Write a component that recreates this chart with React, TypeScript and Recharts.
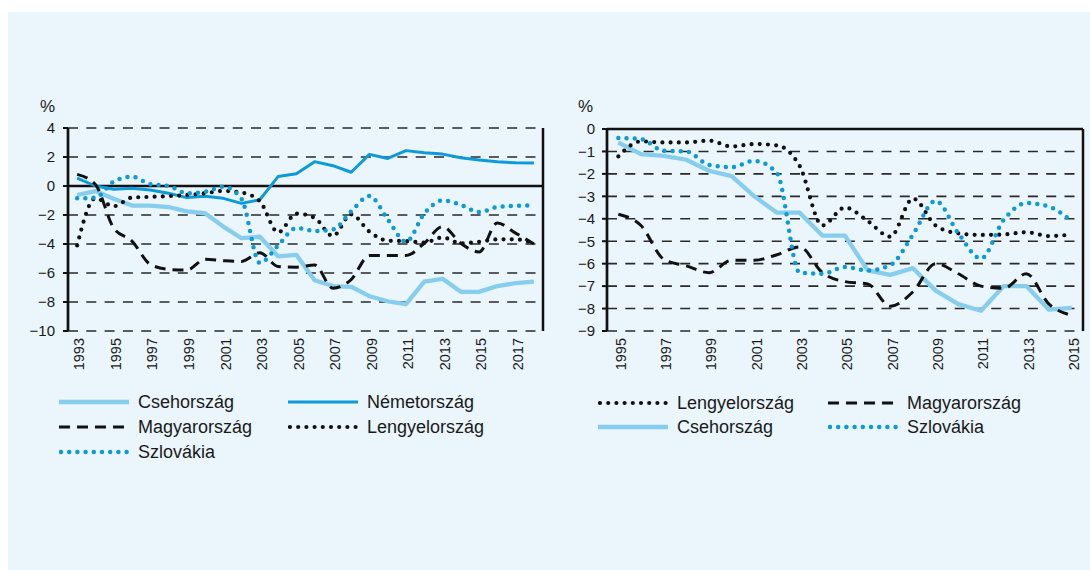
import React from 'react'
import { LineChart, Line, XAxis, YAxis, CartesianGrid, ReferenceLine } from 'recharts'

// --- left panel: 1993-2018 ---
const yearsA = [1993, 1994, 1995, 1996, 1997, 1998, 1999, 2000, 2001, 2002, 2003, 2004, 2005,
  2006, 2007, 2008, 2009, 2010, 2011, 2012, 2013, 2014, 2015, 2016, 2017, 2018]
const csehA = [-0.62, -0.35, -0.88, -1.35, -1.35, -1.45, -1.75, -1.88, -2.8, -3.6, -3.5, -4.85, -4.75,
  -6.5, -6.9, -6.95, -7.6, -7.95, -8.15, -6.6, -6.4, -7.3, -7.3, -6.9, -6.7, -6.6]
const nemetA = [0.55, 0.0, -0.22, -0.15, -0.28, -0.5, -0.8, -0.7, -0.85, -1.2, -0.95, 0.65, 0.85,
  1.68, 1.4, 0.95, 2.18, 1.9, 2.44, 2.3, 2.2, 1.95, 1.8, 1.67, 1.6, 1.58]
const magyarA = [0.8, 0.1, -2.9, -3.8, -5.4, -5.75, -5.8, -5.06, -5.15, -5.2, -4.6, -5.55, -5.6,
  -5.45, -7.05, -6.45, -4.8, -4.8, -4.8, -3.95, -2.8, -3.95, -4.55, -2.55, -3.25, -4.0]
const lengyelA = [-4.1, -0.85, -1.4, -0.8, -0.75, -0.7, -0.62, -0.5, -0.34, -0.45, -1.05, -3.2, -1.9,
  -2.2, -3.45, -1.95, -3.15, -3.77, -3.8, -3.9, -3.55, -3.95, -3.85, -3.68, -3.68, -3.95]
const szlovakA = [-0.85, -0.8, 0.3, 0.64, 0.12, 0.0, -0.5, -0.4, -0.05, -0.9, -5.3, -4.1, -2.9,
  -3.1, -3.0, -1.75, -0.69, -2.3, -3.85, -1.9, -1.0, -1.3, -1.8, -1.45, -1.37, -1.33]
const yTicksA = [4, 2, 0, -2, -4, -6, -8, -10]
const xTicksA = [1993, 1995, 1997, 1999, 2001, 2003, 2005, 2007, 2009, 2011, 2013, 2015, 2017]
const xDomainA = [1992.5, 2018.5]

// --- right panel: 1995-2015 ---
const yearsB = [1995, 1996, 1997, 1998, 1999, 2000, 2001, 2002, 2003, 2004, 2005,
  2006, 2007, 2008, 2009, 2010, 2011, 2012, 2013, 2014, 2015]
const lengyelB = [-1.22, -0.55, -0.6, -0.6, -0.52, -0.78, -0.67, -0.73, -1.65, -4.3, -3.5,
  -4.1, -4.8, -3.1, -4.3, -4.65, -4.72, -4.7, -4.6, -4.77, -4.7]
const magyarB = [-3.8, -4.3, -5.8, -6.1, -6.4, -5.85, -5.85, -5.6, -5.25, -6.4, -6.8,
  -6.9, -7.9, -7.25, -6.0, -6.45, -7.0, -7.1, -6.45, -7.8, -8.3]
const csehB = [-0.6, -1.12, -1.2, -1.37, -1.86, -2.1, -3.0, -3.73, -3.73, -4.75, -4.75,
  -6.3, -6.5, -6.2, -7.2, -7.8, -8.1, -7.0, -7.0, -8.05, -7.97]
const szlovakB = [-0.4, -0.45, -0.97, -1.0, -1.6, -1.7, -1.42, -1.97, -6.4, -6.45, -6.15,
  -6.3, -6.07, -4.7, -3.2, -4.65, -5.77, -4.05, -3.3, -3.46, -4.1]
const yTicksB = [0, -1, -2, -3, -4, -5, -6, -7, -8, -9]
const xTicksB = [1995, 1997, 1999, 2001, 2003, 2005, 2007, 2009, 2011, 2013, 2015]
const xDomainB = [1994.5, 2015.5]

const FONT = '"Liberation Sans", Arial, sans-serif'
const TEXT = '#1a1a1a'
const LIGHT = '#87CEEE'
const BLUE = '#0C9AD8'
const BLACK = '#111'

const STYLES: Record<string, any> = {
  cseh: { label: 'Csehország', stroke: LIGHT, strokeWidth: 4.3, type: 'linear' },
  nemet: { label: 'Németország', stroke: BLUE, strokeWidth: 3, type: 'linear' },
  magyar: { label: 'Magyarország', stroke: BLACK, strokeWidth: 3, dash: '11 7', type: 'monotone' },
  lengyel: { label: 'Lengyelország', stroke: BLACK, strokeWidth: 4.2, dash: '0 8.2', round: true, type: 'monotone' },
  szlovak: { label: 'Szlovákia', stroke: BLUE, strokeWidth: 4.5, dash: '0 8.2', round: true, type: 'monotone' },
}

const dataA = yearsA.map((year, i) => ({
  year, cseh: csehA[i], nemet: nemetA[i], magyar: magyarA[i], lengyel: lengyelA[i], szlovak: szlovakA[i],
}))
const dataB = yearsB.map((year, i) => ({
  year, lengyel: lengyelB[i], magyar: magyarB[i], cseh: csehB[i], szlovak: szlovakB[i],
}))

const fmt = (v: number) => (v < 0 ? '\u2212' + Math.abs(v) : String(v))

const YearTick = ({ x, y, payload }: any) => (
  <text x={x} y={y} transform={`rotate(-90 ${x} ${y})`} textAnchor="end" dy="0.5em"
    fontSize={14.5} fill={TEXT} fontFamily={FONT}>
    {payload.value}
  </text>
)

function Panel({ data, keys, yDomain, yTicks, xDomain, xTicks, width, height, top, yWidth, tickMargin }: any) {
  return (
    <LineChart width={width} height={height} data={data} margin={{ top, right: 4, left: 0, bottom: 5 }}>
      <CartesianGrid vertical={false} stroke="#2a2a2a" strokeWidth={1.6} strokeDasharray="10 8.3" />
      <XAxis dataKey="year" type="number" domain={xDomain} ticks={xTicks} interval={0} allowDataOverflow
        axisLine={false} tickLine={false} tickSize={0} tickMargin={7} height={50} tick={<YearTick />} />
      <YAxis domain={yDomain} ticks={yTicks} interval={0} width={yWidth} tickFormatter={fmt}
        axisLine={{ stroke: BLACK, strokeWidth: 2.7 }} tickLine={{ stroke: BLACK, strokeWidth: 2 }}
        tickSize={5} tickMargin={tickMargin} allowDataOverflow
        tick={{ fontSize: 15, fill: TEXT, fontFamily: FONT }} />
      <ReferenceLine y={0} stroke={BLACK} strokeWidth={2.3} />
      {/* frame line on the right edge of the plot */}
      <ReferenceLine x={xDomain[1]} stroke={BLACK} strokeWidth={2.5} ifOverflow="visible" />
      {keys.map((k: string) => {
        const s = STYLES[k]
        return (
          <Line key={k} dataKey={k} type={s.type} stroke={s.stroke} strokeWidth={s.strokeWidth}
            strokeDasharray={s.dash} strokeLinecap={s.round ? 'round' : 'butt'} strokeLinejoin="round"
            dot={false} activeDot={false} isAnimationActive={false} />
        )
      })}
    </LineChart>
  )
}

function Sample({ k }: { k: string }) {
  const s = STYLES[k]
  return (
    <svg width={70} height={10} style={{ marginRight: 9, flex: 'none' }}>
      <line x1={s.round ? 2 : 0} y1={5} x2={s.round ? 68 : 70} y2={5} stroke={s.stroke} strokeWidth={s.strokeWidth}
        strokeDasharray={s.dash} strokeLinecap={s.round ? 'round' : 'butt'} />
    </svg>
  )
}

function LegendItem({ k, left, top }: any) {
  return (
    <div style={{ position: 'absolute', left, top, height: 24, display: 'flex', alignItems: 'center',
      fontSize: 18, color: TEXT, whiteSpace: 'nowrap' }}>
      <Sample k={k} />
      <span>{STYLES[k].label}</span>
    </div>
  )
}

export default function App() {
  return (
    <>
      <style>{'html, body { margin: 0; overflow: hidden; }'}</style>
      <div style={{ position: 'absolute', left: 8, top: 12, width: 1082, height: 558,
        background: '#EAF5FC', fontFamily: FONT }}>
        <div style={{ position: 'absolute', left: 0, top: 0 }}>
          <Panel data={dataA} keys={['cseh', 'nemet', 'magyar', 'lengyel', 'szlovak']}
            yDomain={[-10, 4]} yTicks={yTicksA} xDomain={xDomainA} xTicks={xTicksA}
            width={539} height={374} top={116} yWidth={60} tickMargin={8} />
        </div>
        <div style={{ position: 'absolute', left: 547, top: 0 }}>
          <Panel data={dataB} keys={['cseh', 'magyar', 'lengyel', 'szlovak']}
            yDomain={[-9, 0]} yTicks={yTicksB} xDomain={xDomainB} xTicks={xTicksB}
            width={532} height={374} top={117} yWidth={52} tickMargin={7} />
        </div>
        {/* right frame of the second panel (plot edge) */}
        <div style={{ position: 'absolute', left: 1073.75, top: 117, width: 2.5, height: 202, background: BLACK }} />

        <div style={{ position: 'absolute', left: 32, top: 86, fontSize: 17, lineHeight: '17px', color: TEXT }}>%</div>
        <div style={{ position: 'absolute', left: 570, top: 86, fontSize: 17, lineHeight: '17px', color: TEXT }}>%</div>

        <LegendItem k="cseh" left={51} top={378} />
        <LegendItem k="nemet" left={280} top={378} />
        <LegendItem k="magyar" left={51} top={403} />
        <LegendItem k="lengyel" left={280} top={403} />
        <LegendItem k="szlovak" left={51} top={428} />

        <LegendItem k="lengyel" left={590} top={379} />
        <LegendItem k="magyar" left={820} top={379} />
        <LegendItem k="cseh" left={590} top={403} />
        <LegendItem k="szlovak" left={820} top={403} />
      </div>
    </>
  )
}
